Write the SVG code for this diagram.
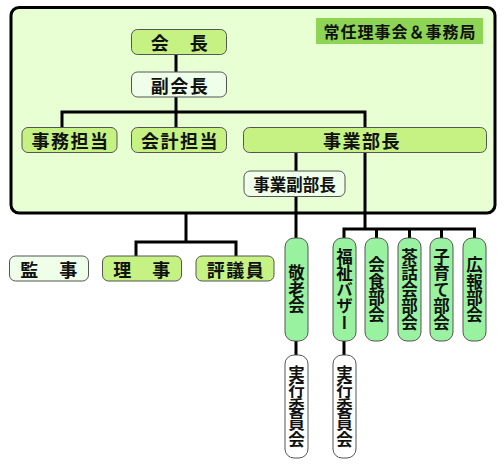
<svg xmlns="http://www.w3.org/2000/svg" width="504" height="470" viewBox="0 0 504 470">
<style>
text{font-family:"Noto Sans CJK JP","Noto Sans CJK SC",sans-serif;font-weight:bold;fill:#111;}
.h{font-size:18px;letter-spacing:1.5px;text-anchor:middle;dominant-baseline:central;}
.s{font-size:16.5px;text-anchor:middle;dominant-baseline:central;}
.v{font-size:16.5px;writing-mode:vertical-rl;text-anchor:middle;}
.g{fill:#c6f283;stroke:#555;stroke-width:1;}
.p{fill:#eefee8;stroke:#555;stroke-width:1;}
.m{fill:#99f2a0;stroke:#555;stroke-width:1;}
.w{fill:#ffffff;stroke:#555;stroke-width:1;}
.c{fill:none;stroke:#000;stroke-width:3;}
</style>
<rect id="frame" x="11" y="7.5" width="484" height="205.5" rx="8" fill="#e8ffd4" stroke="#000" stroke-width="3"/>
<g id="connectors">
<path class="c" d="M176,54 V127 M62,127 V112 H365 V229 M296,152 V238 M296,341 V355 M344,341 V355 M344,238 V229 H474.5 V238 M376.5,229 V238 M409.5,229 V238 M441.5,229 V238 M186,214 V242 M136,256 V242 H236 V256"/>
</g>
<g id="header"><rect x="316" y="18" width="167" height="26" fill="#8ed455"/><text class="s" x="400" y="31" style="font-size:16px;letter-spacing:1px">常任理事会＆事務局</text></g>
<g id="n-kaicho"><rect class="g" x="131.5" y="29.5" width="95" height="25" rx="6"/><text class="h" x="180" y="42">会　長</text></g>
<g id="n-fukukaicho"><rect class="p" x="131.5" y="72" width="95" height="25" rx="6"/><text class="h" x="180" y="84.5">副会長</text></g>
<g id="n-jimu"><rect class="g" x="22" y="127.5" width="95" height="25" rx="6"/><text class="h" x="70.5" y="140">事務担当</text></g>
<g id="n-kaikei"><rect class="g" x="131.5" y="127.5" width="95" height="25" rx="6"/><text class="h" x="180" y="140">会計担当</text></g>
<g id="n-jigyobucho"><rect class="g" x="243.5" y="127.5" width="243" height="25" rx="6"/><text class="h" x="362" y="140">事業部長</text></g>
<g id="n-fukubucho"><rect class="p" x="244" y="171" width="101" height="25.5" rx="6"/><text class="s" x="294.5" y="184">事業副部長</text></g>
<g id="n-kanji"><rect class="p" x="9.5" y="256" width="79" height="25" rx="6"/><text class="h" x="49.5" y="268.5">監　事</text></g>
<g id="n-riji"><rect class="g" x="102.5" y="256" width="79" height="25" rx="6"/><text class="h" x="142.5" y="268.5">理　事</text></g>
<g id="n-hyogiin"><rect class="g" x="196" y="256" width="78" height="25" rx="6"/><text class="h" x="236" y="268.5">評議員</text></g>
<g id="n-keirokai"><rect class="m" x="285" y="238" width="23" height="103" rx="9"/><text class="v" x="296.5" y="289.5">敬老会</text></g>
<g id="n-jikko1"><rect class="w" x="285" y="355" width="23" height="103" rx="9"/><text class="v" x="296.5" y="406.5">実行委員会</text></g>
<g id="n-bazaar"><rect class="m" x="333" y="238" width="23" height="103" rx="9"/><text class="v" x="344.5" y="289.5">福祉バザー</text></g>
<g id="n-jikko2"><rect class="w" x="333" y="355" width="23" height="103" rx="9"/><text class="v" x="344.5" y="406.5">実行委員会</text></g>
<g id="n-kaishoku"><rect class="m" x="365" y="238" width="23" height="103" rx="9"/><text class="v" x="376.5" y="289.5">会食部会</text></g>
<g id="n-sawakai"><rect class="m" x="398" y="238" width="23" height="103" rx="9"/><text class="v" x="409.5" y="289.5">茶話会部会</text></g>
<g id="n-kosodate"><rect class="m" x="430" y="238" width="23" height="103" rx="9"/><text class="v" x="441.5" y="289.5">子育て部会</text></g>
<g id="n-koho"><rect class="m" x="463" y="238" width="23" height="103" rx="9"/><text class="v" x="474.5" y="289.5">広報部会</text></g>
</svg>
